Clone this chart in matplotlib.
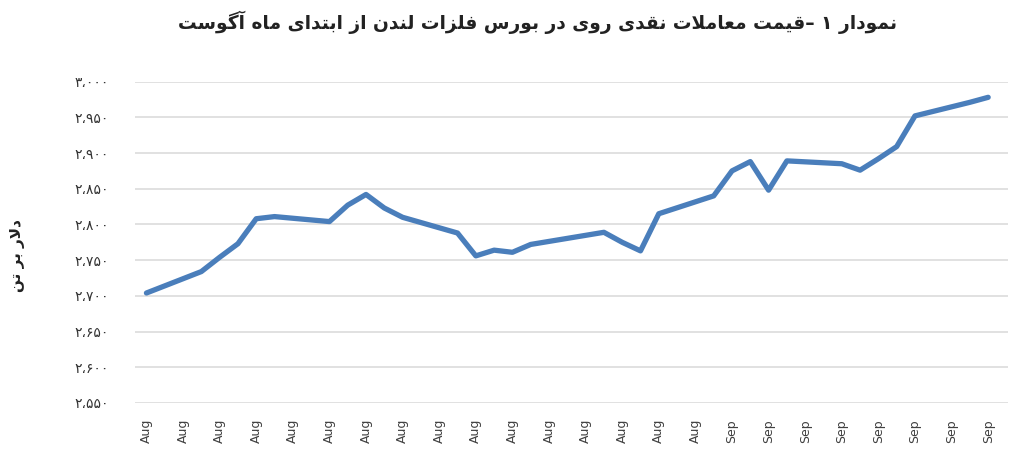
import matplotlib
matplotlib.use("Agg")
import matplotlib.pyplot as plt
import matplotlib.dates as mdates
from matplotlib.transforms import blended_transform_factory
import pandas as pd

# ---------------- data ----------------
dates = ["2025-08-01", "2025-08-04", "2025-08-05", "2025-08-06", "2025-08-07", "2025-08-08",
         "2025-08-11", "2025-08-12", "2025-08-13", "2025-08-14", "2025-08-15",
         "2025-08-18", "2025-08-19", "2025-08-20", "2025-08-21", "2025-08-22",
         "2025-08-26", "2025-08-27", "2025-08-28", "2025-08-29",
         "2025-09-01", "2025-09-02", "2025-09-03", "2025-09-04", "2025-09-05",
         "2025-09-08", "2025-09-09", "2025-09-10", "2025-09-11", "2025-09-12",
         "2025-09-15", "2025-09-16"]
prices = [2704, 2734, 2754, 2773, 2808, 2811,
          2804, 2827, 2842, 2823, 2810,
          2788, 2756, 2764, 2761, 2772,
          2789, 2775, 2763, 2815,
          2840, 2875, 2888, 2848, 2889,
          2885, 2876, 2892, 2909, 2952,
          2971, 2978]
tick_dates = pd.date_range("2025-08-01", "2025-09-16", freq="2D")
tick_labels = [d.strftime('%b') for d in tick_dates]
y_ticks = [2550, 2600, 2650, 2700, 2750, 2800, 2850, 2900, 2950, 3000]

title_text = "نمودار ۱ –قیمت معاملات نقدی روی در بورس فلزات لندن از ابتدای ماه آگوست"
ylabel_text = "دلار بر تن"

# ---------------- minimal Arabic/Persian shaping ----------------
FORMS = {
    'ا': ('\uFE8D', '\uFE8E', None, None),
    'آ': ('\uFE81', '\uFE82', None, None),
    'ب': ('\uFE8F', '\uFE90', '\uFE91', '\uFE92'),
    'ت': ('\uFE95', '\uFE96', '\uFE97', '\uFE98'),
    'د': ('\uFEA9', '\uFEAA', None, None),
    'ر': ('\uFEAD', '\uFEAE', None, None),
    'ز': ('\uFEAF', '\uFEB0', None, None),
    'س': ('\uFEB1', '\uFEB2', '\uFEB3', '\uFEB4'),
    'ع': ('\uFEC9', '\uFECA', '\uFECB', '\uFECC'),
    'ف': ('\uFED1', '\uFED2', '\uFED3', '\uFED4'),
    'ق': ('\uFED5', '\uFED6', '\uFED7', '\uFED8'),
    'گ': ('\uFB92', '\uFB93', '\uFB94', '\uFB95'),
    'ل': ('\uFEDD', '\uFEDE', '\uFEDF', '\uFEE0'),
    'م': ('\uFEE1', '\uFEE2', '\uFEE3', '\uFEE4'),
    'ن': ('\uFEE5', '\uFEE6', '\uFEE7', '\uFEE8'),
    'ه': ('\uFEE9', '\uFEEA', '\uFEEB', '\uFEEC'),
    'و': ('\uFEED', '\uFEEE', None, None),
    'ی': ('\uFBFC', '\uFBFD', '\uFBFE', '\uFBFF'),
    'LA': ('\uFEFB', '\uFEFC', None, None),
}


def shape(text):
    toks = []
    i = 0
    while i < len(text):
        if text[i] == 'ل' and i + 1 < len(text) and text[i + 1] == 'ا':
            toks.append('LA')
            i += 2
        else:
            toks.append(text[i])
            i += 1
    out = []
    for k, t in enumerate(toks):
        if t not in FORMS:
            out.append(t)
            continue
        f = FORMS[t]
        prev = toks[k - 1] if k > 0 else None
        nxt = toks[k + 1] if k + 1 < len(toks) else None
        jp = prev in FORMS and FORMS[prev][2] is not None
        jn = nxt in FORMS and f[2] is not None
        if jp and jn:
            out.append(f[3])
        elif jp:
            out.append(f[1])
        elif jn:
            out.append(f[2])
        else:
            out.append(f[0])
    # visual order: reverse, keeping digit runs left-to-right
    runs = []
    for ch in out:
        isd = '\u06F0' <= ch <= '\u06F9'
        if runs and isd and runs[-1][0]:
            runs[-1][1].append(ch)
        else:
            runs.append((isd, [ch]))
    return ''.join(''.join(r[1]) for r in reversed(runs))


PERSIAN_DIGITS = str.maketrans("0123456789,", "۰۱۲۳۴۵۶۷۸۹،")


def fa_num(v):
    return f"{v:,}".translate(PERSIAN_DIGITS)


# ---------------- figure ----------------
W, H = 1027, 458
fig = plt.figure(figsize=(W / 100, H / 100), dpi=100)
ax = fig.add_axes([135 / W, 1 - 403 / H, (1008 - 135) / W, (403 - 81.6) / H])

x = pd.to_datetime(dates)
ax.plot(x, prices, color="#4a7ebb", linewidth=3.8, solid_joinstyle="round",
        solid_capstyle="round", zorder=3)

ax.set_ylim(2550, 3000)
ax.set_xlim(pd.Timestamp("2025-08-01") - pd.Timedelta(hours=15),
            pd.Timestamp("2025-09-16") + pd.Timedelta(hours=26))
ax.set_yticks(y_ticks)
ax.set_yticklabels([fa_num(v) for v in y_ticks], fontsize=10, color="#333333",
                   family="DejaVu Sans")
ax.tick_params(axis="y", length=0, pad=19)
ax.set_xticks([])
ax.grid(axis="y", color="#d9d9d9", linewidth=1.1, zorder=0)
for s in ax.spines.values():
    s.set_visible(False)

# x labels (rotated month names under each tick date)
tr = blended_transform_factory(ax.transData, fig.transFigure)
for d, lab in zip(tick_dates, tick_labels):
    fig.text(mdates.date2num(d), 1 - 419 / H, lab, transform=tr, rotation=90,
             ha="center", va="top", fontsize=9, color="#404040",
             family="DejaVu Sans")

fig.text(537 / W, 1 - 22 / H, shape(title_text), ha="center", va="center",
         fontsize=13.4, fontweight="bold", color="#222222", family="DejaVu Sans")
fig.text(18 / W, 1 - 255 / H, shape(ylabel_text), ha="center", va="center",
         rotation=90, fontsize=11, fontweight="bold", color="#222222",
         family="DejaVu Sans")

fig.savefig("out.png", dpi=100)
